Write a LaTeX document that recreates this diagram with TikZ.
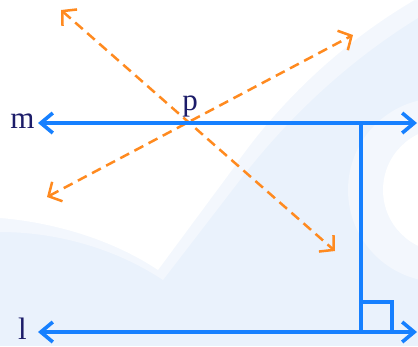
\documentclass[tikz,border=0pt]{standalone}
\usepackage{fontspec}
\setmainfont{Liberation Serif}
\usetikzlibrary{arrows.meta}
\definecolor{bgblue}{RGB}{234,242,252}
\definecolor{bgmid}{RGB}{243,247,253}
\definecolor{lineblue}{RGB}{22,128,255}
\definecolor{dashorange}{RGB}{255,138,31}
\definecolor{labelnavy}{RGB}{28,28,105}
\tikzset{
  bluerule/.style={draw=lineblue, line width=3.6pt},
  bluearrow/.style={bluerule, {Straight Barb[length=12pt,width=20pt]}-{Straight Barb[length=12pt,width=20pt]}},
  orangearrow/.style={draw=dashorange, line width=2.5pt, dash pattern=on 10pt off 6pt,
     {Straight Barb[length=10pt,width=22pt]}-{Straight Barb[length=10pt,width=22pt]}},
  lbl/.style={text=labelnavy, font=\fontsize{31}{33}\selectfont, inner sep=0pt, anchor=base}
}
\begin{document}
\begin{tikzpicture}[x=1pt,y=-1pt]
\useasboundingbox (0,0) rectangle (418,346);
\clip (0,0) rectangle (418,346);
% background
\fill[bgblue] (0,0) rectangle (418,346);
\fill[bgmid] (440,190) circle (92);
\fill[white] (445,190) circle (62);
\fill[bgmid] (0,0) -- (418,0) -- (418,18) .. controls (350,60) and (290,115) .. (240,180) -- (163,280) .. controls (110,245) and (50,232) .. (0,232) -- cycle;
\fill[white] (0,0) -- (418,0) -- (418,-2) .. controls (345,40) and (280,100) .. (232,170) -- (158,270) .. controls (110,238) and (50,222) .. (0,218) -- cycle;
% coordinates
\coordinate (mL) at (38,123);
\coordinate (mR) at (417,123);
\coordinate (lL) at (38,332);
\coordinate (lR) at (417,332);
\coordinate (T) at (361,123);
\coordinate (B) at (361,332);
\coordinate (Q1) at (361,302);
\coordinate (Q2) at (392,302);
\coordinate (Q3) at (392,332);
\coordinate (a1) at (61,10);
\coordinate (a2) at (335,251);
\coordinate (b1) at (47,197);
\coordinate (b2) at (353,35);
% orange dashed lines
\draw[orangearrow] (a1) -- (a2);
\draw[orangearrow] (b1) -- (b2);
% blue lines
\draw[bluearrow] (mL) -- (mR);
\draw[bluearrow] (lL) -- (lR);
\draw[bluerule] (T) -- (B);
\draw[bluerule, line join=miter] (Q1) -- (Q2) -- (Q3);
% labels
\node[lbl] (labm) at (22.5,128) {m};
\node[lbl] (labl) at (22.5,339) {l};
\node[lbl] (labp) at (190,110) {p};
\end{tikzpicture}
\end{document}
